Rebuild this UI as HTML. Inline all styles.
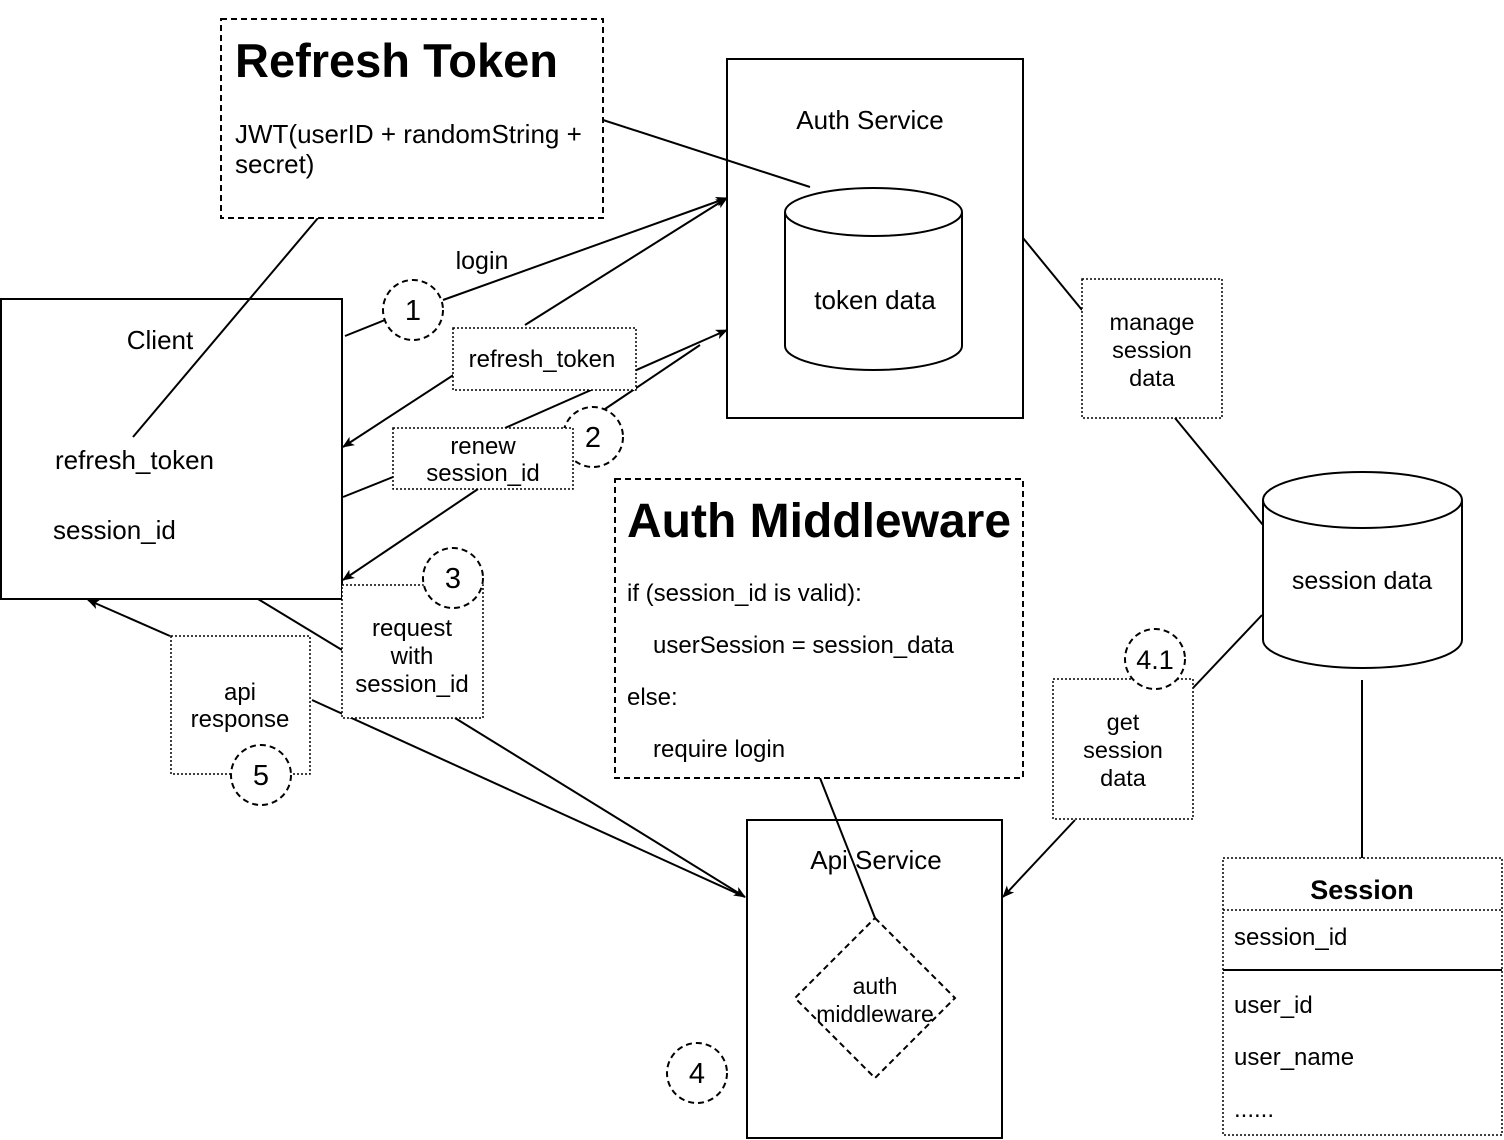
<!DOCTYPE html>
<html><head><meta charset="utf-8"><style>html,body{margin:0;padding:0;background:#fff}svg{display:block}</style></head>
<body>
<svg width="1504" height="1140" viewBox="0 0 1504 1140" xmlns="http://www.w3.org/2000/svg" font-family="Liberation Sans, sans-serif">
<defs><marker id="a" markerWidth="12" markerHeight="10" refX="11" refY="5" orient="auto" markerUnits="userSpaceOnUse"><path d="M0,0 L12,5 L0,10 L3,5 z" fill="#000"/></marker></defs>
<g fill="none" stroke="#000" stroke-width="2">
<rect x="727" y="59" width="296" height="359"/>
<rect x="1" y="299" width="341" height="300"/>
<rect x="747" y="820" width="255" height="318"/>
</g>
<g fill="none" stroke="#000" stroke-width="2">
<line x1="318" y1="218" x2="133" y2="437"/>
<line x1="603" y1="120" x2="810" y2="187"/>
<line x1="345" y1="336" x2="385" y2="320"/>
<line x1="443" y1="300" x2="727" y2="198" marker-end="url(#a)"/>
<line x1="525" y1="325" x2="727" y2="198" marker-end="url(#a)"/>
<line x1="455" y1="374" x2="343" y2="447" marker-end="url(#a)"/>
<line x1="343" y1="497" x2="393" y2="477"/>
<line x1="505" y1="428" x2="727" y2="330" marker-end="url(#a)"/>
<line x1="605" y1="409" x2="700" y2="345"/>
<line x1="478" y1="489" x2="343" y2="580" marker-end="url(#a)"/>
<line x1="258" y1="599" x2="342" y2="650"/>
<line x1="455" y1="718" x2="745" y2="897" marker-end="url(#a)"/>
<line x1="312" y1="700" x2="745" y2="897"/>
<line x1="170" y1="636" x2="88" y2="600" marker-end="url(#a)"/>
<line x1="820" y1="778" x2="875" y2="918"/>
<line x1="1023" y1="238" x2="1082" y2="310"/>
<line x1="1175" y1="418" x2="1263" y2="525"/>
<line x1="1362" y1="680" x2="1362" y2="858"/>
<line x1="1193" y1="688" x2="1262" y2="615"/>
<line x1="1075" y1="820" x2="1003" y2="897" marker-end="url(#a)"/>
</g>
<g stroke="#000" stroke-width="2" fill="#fff">
<path d="M785,212 L785,346 A88.5,24 0 0 0 962,346 L962,212"/>
<ellipse cx="873.5" cy="212" rx="88.5" ry="24"/>
<path d="M1263,500 L1263,640 A99.5,28 0 0 0 1462,640 L1462,500"/>
<ellipse cx="1362.5" cy="500" rx="99.5" ry="28"/>
</g>
<g fill="#fff" stroke="#000" stroke-width="2" stroke-dasharray="6,4">
<rect x="221" y="19" width="382" height="199"/>
<rect x="615" y="479" width="408" height="299"/>
<polygon points="875,918 955,998 875,1078 795,998"/>
<circle cx="413" cy="310" r="30"/>
<circle cx="593" cy="437" r="30"/>
<circle cx="697" cy="1073" r="30"/>
</g>
<g fill="#fff" stroke="#000" stroke-width="1.5" stroke-dasharray="2,2">
<rect x="453" y="328" width="183" height="62"/>
<rect x="393" y="428" width="180" height="61"/>
<rect x="342" y="585" width="141" height="133"/>
<rect x="171" y="636" width="139" height="138"/>
<rect x="1082" y="279" width="140" height="139"/>
<rect x="1053" y="679" width="140" height="140"/>
<rect x="1223" y="858" width="279" height="277"/>
<line x1="1223" y1="910" x2="1502" y2="910"/>
</g>
<line x1="1223" y1="970" x2="1502" y2="970" stroke="#000" stroke-width="2"/>
<g fill="#fff" stroke="#000" stroke-width="2" stroke-dasharray="6,4">
<circle cx="453" cy="578" r="30"/>
<circle cx="261" cy="775" r="30"/>
<circle cx="1155" cy="659" r="30"/>
</g>
<g font-size="26" fill="#000">
<text x="235" y="77" font-size="47" font-weight="bold">Refresh Token</text>
<text x="235" y="143">JWT(userID + randomString +</text>
<text x="235" y="173">secret)</text>
<text x="870" y="129" text-anchor="middle">Auth Service</text>
<text x="875" y="309" text-anchor="middle">token data</text>
<text x="160" y="349" text-anchor="middle">Client</text>
<text x="55" y="469">refresh_token</text>
<text x="53" y="539">session_id</text>
<text x="482" y="269" text-anchor="middle" font-size="25">login</text>
<text x="542" y="367" text-anchor="middle" font-size="24">refresh_token</text>
<text x="483" y="454" text-anchor="middle" font-size="24">renew</text>
<text x="483" y="481" text-anchor="middle" font-size="24">session_id</text>
<text x="412" y="636" text-anchor="middle" font-size="24">request</text>
<text x="412" y="664" text-anchor="middle" font-size="24">with</text>
<text x="412" y="692" text-anchor="middle" font-size="24">session_id</text>
<text x="240" y="700" text-anchor="middle" font-size="24">api</text>
<text x="240" y="727" text-anchor="middle" font-size="24">response</text>
<text x="627" y="537" font-size="48" font-weight="bold">Auth Middleware</text>
<text x="627" y="601" font-size="24">if (session_id is valid):</text>
<text x="653" y="653" font-size="24">userSession = session_data</text>
<text x="627" y="705" font-size="24">else:</text>
<text x="653" y="757" font-size="24">require login</text>
<text x="876" y="869" text-anchor="middle">Api Service</text>
<text x="875" y="994" text-anchor="middle" font-size="23">auth</text>
<text x="875" y="1022" text-anchor="middle" font-size="23">middleware</text>
<text x="1152" y="330" text-anchor="middle" font-size="23.5">manage</text>
<text x="1152" y="358" text-anchor="middle" font-size="23.5">session</text>
<text x="1152" y="386" text-anchor="middle" font-size="23.5">data</text>
<text x="1362" y="589" text-anchor="middle" font-size="25">session data</text>
<text x="1123" y="730" text-anchor="middle" font-size="23.5">get</text>
<text x="1123" y="758" text-anchor="middle" font-size="23.5">session</text>
<text x="1123" y="786" text-anchor="middle" font-size="23.5">data</text>
<text x="1362" y="899" text-anchor="middle" font-weight="bold" font-size="27">Session</text>
<text x="1234" y="945" font-size="24">session_id</text>
<text x="1234" y="1013" font-size="24">user_id</text>
<text x="1234" y="1065" font-size="24">user_name</text>
<text x="1234" y="1117" font-size="24">......</text>
<g font-size="29" text-anchor="middle">
<text x="413" y="320">1</text>
<text x="593" y="447">2</text>
<text x="453" y="588">3</text>
<text x="697" y="1083">4</text>
<text x="261" y="785">5</text>
<text x="1155" y="669" font-size="27">4.1</text>
</g>
</g>
</svg>
</body></html>
